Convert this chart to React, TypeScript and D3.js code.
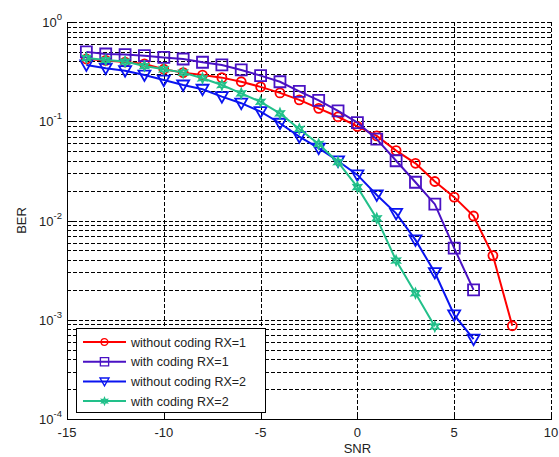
import { useEffect, useRef } from 'react';
import * as d3 from 'd3';

const snr = [-14, -13, -12, -11, -10, -9, -8, -7, -6, -5, -4, -3, -2, -1, 0, 1, 2, 3, 4, 5, 6, 7, 8];

const noCodingRx1 = [0.424, 0.41, 0.395, 0.378, 0.334, 0.309, 0.292, 0.275, 0.25, 0.222, 0.193, 0.164, 0.135,
  0.111, 0.0887, 0.0711, 0.0506, 0.0377, 0.0247, 0.0172, 0.0111, 0.00443, 0.00087];
const codingRx1 = [0.5, 0.476, 0.47, 0.458, 0.44, 0.424, 0.393, 0.369, 0.329, 0.288, 0.25, 0.2, 0.162,
  0.127, 0.0968, 0.066, 0.04, 0.0243, 0.0146, 0.00526, 0.002];
const noCodingRx2 = [0.369, 0.342, 0.323, 0.292, 0.26, 0.232, 0.21, 0.177, 0.152, 0.125, 0.0955, 0.07, 0.0535,
  0.0398, 0.0288, 0.0181, 0.0118, 0.00638, 0.00299, 0.00112, 0.000638];
const codingRx2 = [0.434, 0.414, 0.399, 0.36, 0.334, 0.309, 0.271, 0.232, 0.191, 0.157, 0.12, 0.0836, 0.059,
  0.0387, 0.0217, 0.0105, 0.00395, 0.00185, 0.000855];

const seriesNames = ['without coding RX=1', 'with coding RX=1', 'without coding RX=2', 'with coding RX=2'];
const seriesColors = ['#ff0000', '#4a12c4', '#0a14f0', '#22c08a'];
const seriesMarkers = ['circle', 'square', 'triangle', 'hexagram'];

const xTicks = [-15, -10, -5, 0, 5, 10];
const yExponents = [0, -1, -2, -3, -4];

function markerPath(kind: string, cx: number, cy: number) {
  if (kind === 'circle') {
    const r = 4.5;
    return `M${cx - r},${cy}a${r},${r} 0 1,0 ${2 * r},0a${r},${r} 0 1,0 ${-2 * r},0Z`;
  }
  if (kind === 'square') {
    const h = 5.5;
    return `M${cx - h},${cy - h}h${2 * h}v${2 * h}h${-2 * h}Z`;
  }
  if (kind === 'triangle') {
    const w = 6, t = 4.5, b = 6;
    return `M${cx - w},${cy - t}L${cx + w},${cy - t}L${cx},${cy + b}Z`;
  }
  // six-pointed star
  const pts: string[] = [];
  for (let i = 0; i < 12; i++) {
    const a = (Math.PI / 6) * i - Math.PI / 2;
    const r = i % 2 === 0 ? 4.5 : 2.2;
    pts.push(`${cx + r * Math.cos(a)},${cy + r * Math.sin(a)}`);
  }
  return `M${pts.join('L')}Z`;
}

const App = () => {
  const svgRef = useRef<SVGSVGElement>(null);

  useEffect(() => {
    const width = 559;
    const height = 457;
    const margin = { top: 22, right: 8, bottom: 38, left: 67 };

    const svg = d3.select(svgRef.current);
    svg.selectAll('*').remove();
    svg.attr('width', width).attr('height', height);

    const x = d3.scaleLinear().domain([-15, 10]).range([margin.left, width - margin.right]);
    const y = d3.scaleLog().domain([1e-4, 1]).range([height - margin.bottom, margin.top]);

    const font = 'Liberation Sans, Arial, sans-serif';
    const grid = svg.append('g').attr('stroke', '#000').attr('stroke-width', 1)
      .attr('stroke-dasharray', '3.5,2.5').attr('shape-rendering', 'crispEdges');

    // horizontal grid, major and minor
    const yGrid: number[] = [];
    for (let e = -4; e < 0; e++) {
      for (let m = 1; m <= 9; m++) yGrid.push(m * Math.pow(10, e));
    }
    yGrid.push(1);
    grid.selectAll('line.h').data(yGrid.filter(v => v > 1e-4)).join('line')
      .attr('x1', margin.left).attr('x2', width - margin.right)
      .attr('y1', d => Math.round(y(d)) + 0.5).attr('y2', d => Math.round(y(d)) + 0.5);

    grid.selectAll('line.v').data(xTicks.filter(v => v > -15)).join('line')
      .attr('x1', d => Math.round(x(d)) + 0.5).attr('x2', d => Math.round(x(d)) + 0.5)
      .attr('y1', margin.top).attr('y2', height - margin.bottom);

    // axes
    const axes = svg.append('g').attr('stroke', '#000').attr('shape-rendering', 'crispEdges');
    const x0 = Math.round(x(-15)) + 0.5;
    const yb = Math.round(y(1e-4)) + 0.5;
    axes.append('line').attr('x1', x0).attr('x2', x0).attr('y1', margin.top).attr('y2', yb);
    axes.append('line').attr('x1', x0).attr('x2', width - margin.right).attr('y1', yb).attr('y2', yb);
    axes.selectAll('line.yt').data(yGrid).join('line')
      .attr('x1', x0).attr('x2', d => x0 + (Math.abs(Math.log10(d) % 1) < 1e-9 ? 5 : 3))
      .attr('y1', d => Math.round(y(d)) + 0.5).attr('y2', d => Math.round(y(d)) + 0.5);
    axes.selectAll('line.xt').data(xTicks).join('line')
      .attr('x1', d => Math.round(x(d)) + 0.5).attr('x2', d => Math.round(x(d)) + 0.5)
      .attr('y1', yb).attr('y2', yb - 5);

    // tick labels
    svg.append('g').selectAll('text').data(xTicks).join('text')
      .attr('x', d => x(d)).attr('y', height - margin.bottom + 18)
      .attr('text-anchor', 'middle').attr('font-family', font).attr('font-size', 13)
      .attr('fill', '#222').text(d => String(d));

    const yl = svg.append('g').attr('font-family', font).attr('fill', '#222');
    yExponents.forEach(e => {
      const t = yl.append('text').attr('x', 62).attr('y', y(Math.pow(10, e)) + 5)
        .attr('text-anchor', 'end').attr('font-size', 13);
      t.append('tspan').text('10');
      t.append('tspan').attr('dy', -7).attr('font-size', 9.5).text(String(e));
    });

    svg.append('text').attr('x', x(0)).attr('y', height - 4).attr('text-anchor', 'middle')
      .attr('font-family', font).attr('font-size', 13).attr('fill', '#222').text('SNR');
    svg.append('text').attr('transform', `translate(26,${y(0.01)}) rotate(-90)`)
      .attr('text-anchor', 'middle').attr('font-family', font).attr('font-size', 13)
      .attr('fill', '#222').text('BER');

    // series
    const allSeries = [noCodingRx1, codingRx1, noCodingRx2, codingRx2];
    const line = d3.line<[number, number]>().x(d => x(d[0])).y(d => y(d[1]));
    allSeries.forEach((vals, i) => {
      const pts: [number, number][] = vals.map((v, j) => [snr[j], v]);
      const g = svg.append('g');
      g.append('path').attr('d', line(pts)).attr('fill', 'none')
        .attr('stroke', seriesColors[i]).attr('stroke-width', 2);
      g.selectAll('path.m').data(pts).join('path')
        .attr('d', d => markerPath(seriesMarkers[i], x(d[0]), y(d[1])))
        .attr('fill', 'none').attr('stroke', seriesColors[i]).attr('stroke-width', 1.8);
    });

    // legend
    const lg = svg.append('g');
    lg.append('rect').attr('x', 76.5).attr('y', 328.5).attr('width', 189).attr('height', 84)
      .attr('fill', '#fff').attr('stroke', '#000').attr('shape-rendering', 'crispEdges');
    seriesNames.forEach((name, i) => {
      const ly = 342 + i * 19.7;
      lg.append('line').attr('x1', 83).attr('x2', 126).attr('y1', ly).attr('y2', ly)
        .attr('stroke', seriesColors[i]).attr('stroke-width', 2);
      lg.append('path').attr('d', markerPath(seriesMarkers[i], 104.5, ly))
        .attr('fill', 'none').attr('stroke', seriesColors[i]).attr('stroke-width', 1.8)
        .attr('transform', `translate(${104.5 * 0.25},${ly * 0.25}) scale(0.75)`);
      lg.append('text').attr('x', 131).attr('y', ly + 4.5).attr('font-family', font)
        .attr('font-size', 12.5).attr('fill', '#222').text(name);
    });
  }, []);

  return (
    <div style={{ position: 'absolute', left: 0, top: 0, background: '#fff' }}>
      <svg ref={svgRef} style={{ display: 'block' }} />
    </div>
  );
};

export default App;
